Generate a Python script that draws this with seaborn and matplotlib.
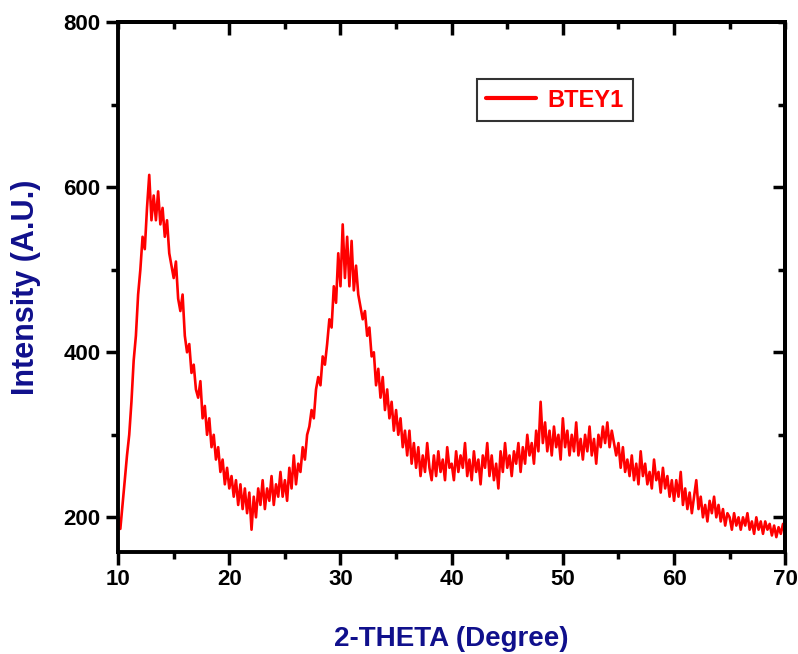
import numpy as np
import pandas as pd
import matplotlib
matplotlib.use("Agg")
import matplotlib.pyplot as plt
from matplotlib.ticker import MultipleLocator
import seaborn as sns

# XRD pattern, one value every 0.2 degree from 10 to 70
intensity = [
    200, 186, 215, 245, 275,
    300, 340, 390, 420, 470,
    500, 540, 525, 575, 615,
    560, 590, 560, 595, 555,
    575, 540, 560, 520, 505,
    490, 510, 465, 450, 470,
    420, 400, 410, 375, 385,
    355, 345, 365, 320, 335,
    300, 320, 285, 300, 270,
    285, 255, 270, 240, 260,
    235, 250, 225, 245, 215,
    240, 210, 235, 205, 230,
    185, 225, 200, 235, 215,
    245, 210, 235, 220, 250,
    215, 240, 225, 255, 225,
    245, 220, 260, 235, 275,
    240, 265, 255, 285, 270,
    300, 310, 330, 320, 355,
    370, 360, 395, 385, 410,
    440, 430, 480, 460, 520,
    480, 555, 490, 540, 480,
    535, 475, 505, 470, 455,
    440, 450, 420, 430, 395,
    400, 360, 380, 345, 370,
    330, 355, 320, 340, 305,
    330, 300, 320, 285, 305,
    275, 305, 265, 290, 260,
    285, 250, 275, 255, 290,
    260, 245, 275, 250, 280,
    255, 270, 245, 285, 260,
    265, 245, 280, 255, 275,
    260, 290, 250, 270, 245,
    280, 255, 270, 240, 275,
    260, 290, 250, 275, 245,
    265, 235, 280, 255, 290,
    260, 275, 250, 280, 265,
    290, 255, 285, 265, 300,
    275, 290, 265, 305, 280,
    340, 290, 315, 280, 305,
    275, 310, 285, 300, 270,
    320, 285, 305, 275, 300,
    280, 315, 275, 295, 270,
    300, 280, 310, 275, 295,
    265, 300, 285, 310, 290,
    315, 285, 305, 290, 275,
    290, 260, 285, 255, 270,
    250, 275, 245, 265, 240,
    280, 250, 265, 240, 255,
    235, 270, 245, 255, 230,
    260, 235, 250, 225, 245,
    220, 245, 225, 255, 215,
    235, 210, 230, 205, 225,
    245, 210, 225, 200, 215,
    195, 220, 205, 225, 200,
    215, 195, 210, 190, 205,
    200, 185, 205, 190, 200,
    185, 200, 190, 205, 185,
    195, 180, 200, 185, 195,
    180, 195, 185, 192, 178,
    190, 176, 188, 180, 192,
    178,
]
two_theta = np.round(np.linspace(10, 70, len(intensity)), 1)
series_name = "BTEY1"

x_ticks = [10, 20, 30, 40, 50, 60, 70]
y_ticks = [200, 400, 600, 800]

sns.set_style("ticks")
plt.rcParams['font.family'] = ['Liberation Sans', 'DejaVu Sans']
plt.rcParams['font.weight'] = 'bold'
plt.rcParams['xtick.color'] = 'black'
plt.rcParams['ytick.color'] = 'black'
plt.rcParams['xtick.labelcolor'] = 'black'
plt.rcParams['ytick.labelcolor'] = 'black'

df = pd.DataFrame({"2theta": two_theta, "I": intensity})

fig = plt.figure(figsize=(7.98, 6.54), dpi=100)
ax = fig.add_axes([0.148, 0.156, 0.836, 0.81])
sns.lineplot(data=df, x="2theta", y="I", color="#ff0000", lw=1.9, ax=ax, label=series_name)

ax.set_xlim(10, 70)
ax.set_ylim(158, 800)
ax.set_xticks(x_ticks)
ax.set_yticks(y_ticks)
ax.xaxis.set_minor_locator(MultipleLocator(5))
ax.yaxis.set_minor_locator(MultipleLocator(100))
ax.tick_params(which='major', direction='out', length=9, width=2.5, labelsize=16)
ax.tick_params(which='minor', direction='out', length=5, width=2.5)
for s in ax.spines.values():
    s.set_linewidth(2.8)
    s.set_color('black')

# inward ticks on top and right
top = ax.secondary_xaxis('top')
top.set_xticks(x_ticks[1:-1])
top.xaxis.set_minor_locator(MultipleLocator(5))
top.tick_params(which='major', direction='in', length=9, width=2.5, labeltop=False)
top.tick_params(which='minor', direction='in', length=5, width=2.5)
right = ax.secondary_yaxis('right')
right.set_yticks([200, 400, 600])
right.yaxis.set_minor_locator(MultipleLocator(100))
right.tick_params(which='major', direction='in', length=9, width=2.5, labelright=False)
right.tick_params(which='minor', direction='in', length=5, width=2.5)
for sec in (top, right):
    for s in sec.spines.values():
        s.set_linewidth(2.8)
        s.set_color('black')

ax.set_xlabel("2-THETA (Degree)", fontsize=20, color="#10108c", fontweight='bold', labelpad=26)
ax.set_ylabel("Intensity (A.U.)", fontsize=22, color="#10108c", fontweight='bold', labelpad=16)

leg = ax.legend(loc='upper left', bbox_to_anchor=(0.52, 0.915), frameon=True, fancybox=False,
                handlelength=2.1, handletextpad=0.5, borderpad=0.4,
                prop={'size': 17, 'weight': 'bold'})
leg.get_frame().set_edgecolor('black')
leg.get_frame().set_linewidth(1.5)
for h in leg.get_lines():
    h.set_linewidth(3)
for t in leg.get_texts():
    t.set_color('#ff0000')

fig.savefig("out.png", dpi=100)
